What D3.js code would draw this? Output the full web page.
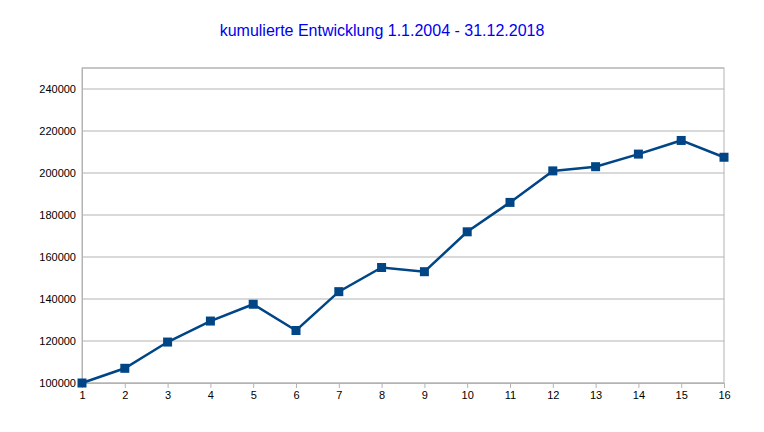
<!DOCTYPE html>
<html><head><meta charset="utf-8">
<script src="https://cdn.jsdelivr.net/npm/d3@7"></script>
<style>body{margin:0;background:#fff}</style></head>
<body><svg id="c" width="764" height="432"></svg>
<script>
const categories = [1,2,3,4,5,6,7,8,9,10,11,12,13,14,15,16];
const values = [100000,107000,119500,129500,137500,125000,143500,155000,153000,172000,186000,201000,203000,209000,215500,207500];
const yTicks = [100000,120000,140000,160000,180000,200000,220000,240000];
const title = "kumulierte Entwicklung 1.1.2004 - 31.12.2018";

const svg = d3.select("#c");
const L=82,R=724,T=68,B=383;
const x = d3.scaleLinear().domain([1,16]).range([L,R]);
const y = d3.scaleLinear().domain([100000,250000]).range([B,T]);
const font="Liberation Sans, Arial, sans-serif";

svg.append("text").attr("x",382).attr("y",36).attr("text-anchor","middle")
 .attr("font-family",font).attr("font-size",16).attr("fill","#0000ee").text(title);

svg.append("rect").attr("x",L).attr("y",T).attr("width",R-L).attr("height",B-T)
 .attr("fill","none").attr("stroke","#b3b3b3");
const ticks=yTicks.concat([250000]);
svg.selectAll(".g").data(ticks).enter().append("line")
 .attr("x1",L).attr("x2",R).attr("y1",d=>y(d)).attr("y2",d=>y(d)).attr("stroke","#b3b3b3");

const ya=svg.append("g").attr("transform",`translate(${L},0)`)
 .call(d3.axisLeft(y).tickValues(yTicks).tickSize(0).tickPadding(6).tickFormat(d3.format("d")));
const xa=svg.append("g").attr("transform",`translate(0,${B})`)
 .call(d3.axisBottom(x).tickValues(categories).tickSize(5).tickPadding(3).tickFormat(d3.format("d")));
[ya,xa].forEach(a=>{a.select(".domain").attr("stroke","#b3b3b3");
 a.selectAll("line").attr("stroke","#b3b3b3");
 a.selectAll("text").attr("font-family",font).attr("font-size",11).attr("fill","#000");});

svg.append("path").datum(values).attr("fill","none").attr("stroke","#004586").attr("stroke-width",2.5)
 .attr("d",d3.line().x((d,i)=>x(categories[i])).y(d=>y(d)));
svg.selectAll(".m").data(values).enter().append("rect")
 .attr("x",(d,i)=>x(categories[i])-4.5).attr("y",d=>y(d)-4.5).attr("width",9).attr("height",9)
 .attr("fill","#004586");
</script></body></html>
